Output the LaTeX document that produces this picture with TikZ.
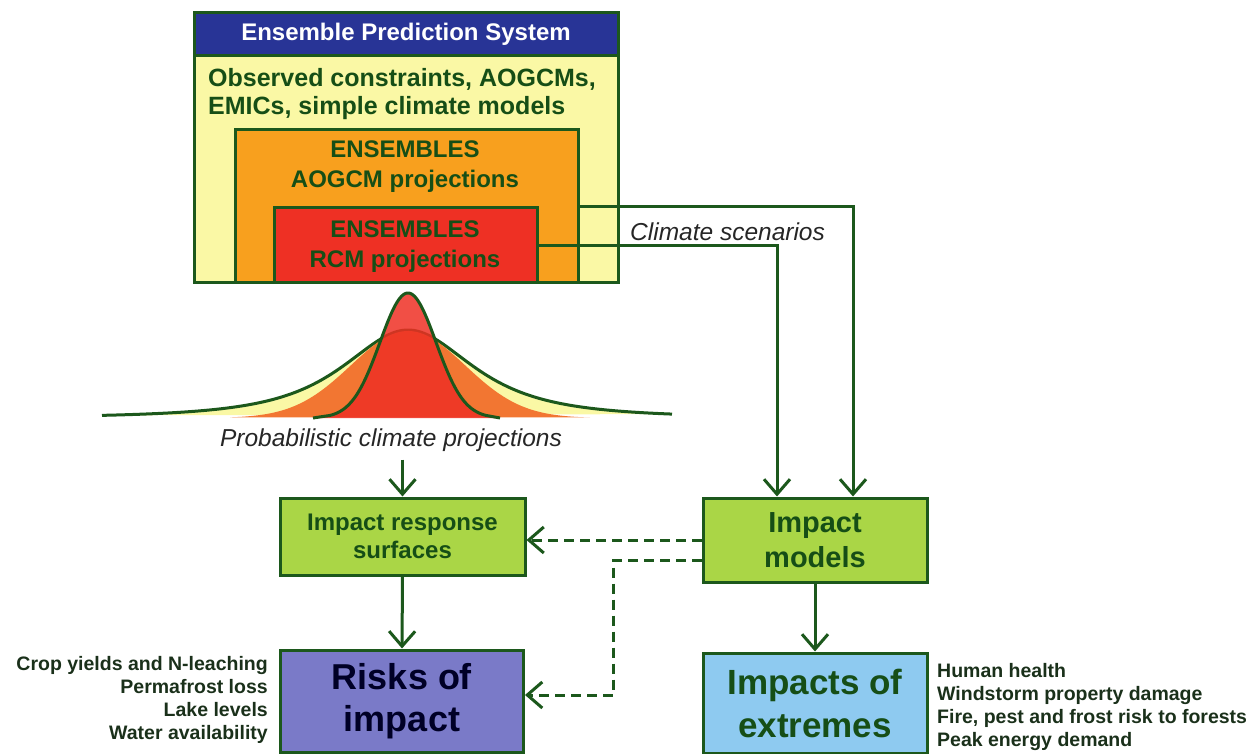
\documentclass[tikz,border=0pt]{standalone}
\usepackage{fontspec}
\setmainfont{Liberation Sans}
\usetikzlibrary{positioning, arrows.meta}

\definecolor{linegreen}{RGB}{28,88,28}
\definecolor{textgreen}{RGB}{22,78,22}
\definecolor{listdark}{RGB}{26,48,26}
\definecolor{headblue}{RGB}{40,52,150}
\definecolor{paleyellow}{RGB}{250,248,165}
\definecolor{boxorange}{RGB}{248,160,30}
\definecolor{boxred}{RGB}{238,48,36}
\definecolor{curveorange}{RGB}{242,118,50}
\definecolor{boxgreen}{RGB}{170,214,70}
\definecolor{riskblue}{RGB}{122,122,200}
\definecolor{extblue}{RGB}{142,202,240}

\begin{document}
\begin{tikzpicture}[x=1pt,y=-1pt]
	
	\tikzset{box/.style={draw=linegreen, line width=3pt, inner sep=0pt, align=center, text=textgreen},
		arr/.style={draw=linegreen, line width=3pt, -{Straight Barb[length=15pt,width=26pt]}},
		dasharr/.style={arr, dash pattern=on 10pt off 6pt},
		label/.style={inner sep=0pt, font=\fontsize{24.5}{28}\selectfont\itshape, text=black!85},
		listtext/.style={inner sep=0pt, font=\fontsize{19.5}{23}\selectfont\bfseries, text=listdark}
	}
	\useasboundingbox (0,0) rectangle (1251,754);
	
	% ensemble prediction system, nested boxes
	\node[box, fill=paleyellow, minimum width=424, minimum height=270] (eps) at (406,148) {};
	\node[box, fill=headblue, minimum width=424, minimum height=43, anchor=north, text=white,
		font=\fontsize{24}{28}\selectfont\bfseries] (head) at (eps.north) {Ensemble Prediction System};
	\node[anchor=west, inner sep=0pt, align=left, text=textgreen,
		font=\fontsize{25}{28}\selectfont\bfseries] (obs) at (208,94) {Observed constraints, AOGCMs,\\EMICs, simple climate models};
	\node[box, fill=boxorange, minimum width=343, minimum height=153] (orange) at (406.5,206.5) {};
	\node[inner sep=0pt, align=center, text=textgreen, font=\fontsize{24}{30}\selectfont\bfseries]
		(gcmtext) at (405,167) {ENSEMBLES\\AOGCM projections};
	\node[box, fill=boxred, minimum width=263, minimum height=75] (red) at (405.5,245.5) {};
	\node[inner sep=0pt, align=center, text=textgreen, font=\fontsize{24}{30}\selectfont\bfseries]
		(rcmtext) at (405,247) {ENSEMBLES\\RCM projections};
	
	% pdf curves
	\draw[linegreen, line width=3pt, fill=paleyellow] plot[domain=102:672, samples=160, smooth]
		(\x,{418-88/((1+((\x-408)/100)^2)^1.5)});
	\fill[curveorange] plot[domain=230:590, samples=120, smooth]
		(\x,{418-87*exp(-((\x-408)/57)^2/2)});
	\draw[linegreen, line width=3pt, fill=boxred, fill opacity=0.85] (313,418)
		-- plot[domain=330:486, samples=120, smooth] (\x,{418-125*exp(-((\x-408)/28)^2/2)}) -- (500,418);
	\node[label] (proj) at (391,440) {Probabilistic climate projections};
	
	% impact boxes
	\node[box, fill=boxgreen, minimum width=245, minimum height=77,
		font=\fontsize{24}{28}\selectfont\bfseries] (irs) at (402.5,536.5) {Impact response\\surfaces};
	\node[box, fill=boxgreen, minimum width=224, minimum height=84,
		font=\fontsize{29}{35}\selectfont\bfseries] (models) at (815,540) {Impact\\models};
	\node[box, fill=riskblue, minimum width=243, minimum height=102, text=black!85!blue,
		font=\fontsize{36}{42}\selectfont\bfseries] (risks) at (402,701) {Risks of\\impact};
	\node[box, fill=extblue, minimum width=224, minimum height=100,
		font=\fontsize{35}{43}\selectfont\bfseries] (extremes) at (815,703) {Impacts of\\extremes};
	
	\node[listtext, anchor=east, align=right] (risklist) at (268,700)
		{Crop yields and N-leaching\\Permafrost loss\\Lake levels\\Water availability};
	\node[listtext, anchor=west, align=left] (extlist) at (937,707)
		{Human health\\Windstorm property damage\\Fire, pest and frost risk to forests\\Peak energy demand};
	
	% connectors
	\draw[arr] (orange.east) -| ([xshift=38pt]models.north);
	\draw[arr] (red.east) -| ([xshift=-38pt]models.north);
	\node[label, anchor=west] (scen) at (630,232) {Climate scenarios};
	\draw[arr] (proj.south -| irs.north) ++(0,8) -- (irs.north);
	\draw[arr] (irs.south) -- (risks.north);
	\draw[arr] (models.south) -- (extremes.north);
	\draw[dasharr] (models.west) -- (models.west -| irs.east);
	\coordinate (turn) at (613,560);
	\draw[dasharr] (models.west |- turn) -- (turn) |- ([yshift=6pt]risks.east);
	
\end{tikzpicture}
\end{document}
